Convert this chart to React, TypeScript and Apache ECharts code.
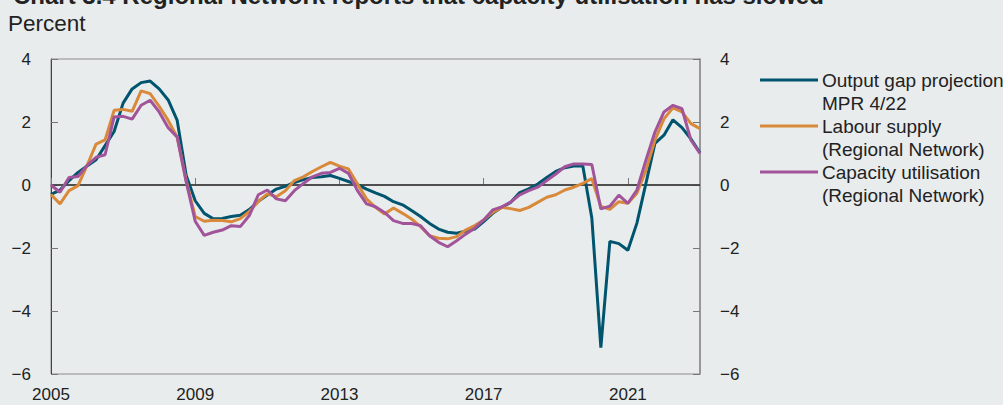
import React, { useEffect, useRef } from "react";
import * as echarts from "echarts";

const startYear = 2005;
const xTickLabels = ["2005", "2009", "2013", "2017", "2021"];
const yTickValues = [-6, -4, -2, 0, 2, 4];

const outputGap = [
  -0.3, -0.16, 0.14, 0.4, 0.6, 0.8, 1.25, 1.7, 2.6, 3.05, 3.25, 3.3, 3.05, 2.7, 2.05, 0.3,
  -0.5, -0.9, -1.07, -1.06, -1.0, -0.96, -0.78, -0.52, -0.32, -0.13, -0.04, 0.08, 0.17, 0.24, 0.26, 0.3,
  0.21, 0.11, 0.01, -0.13, -0.25, -0.36, -0.53, -0.63, -0.81, -1.0, -1.22, -1.4, -1.5, -1.53, -1.47, -1.4,
  -1.16, -0.9, -0.71, -0.55, -0.24, -0.12, 0.03, 0.24, 0.43, 0.55, 0.6, 0.6, -1.05, -5.16, -1.79, -1.86,
  -2.07, -1.21, 0.05, 1.32, 1.58, 2.07, 1.82, 1.46, 1.02,
];

const labourSupply = [
  -0.3, -0.6, -0.18, -0.02, 0.62, 1.3, 1.43, 2.37, 2.4, 2.34, 2.99, 2.9, 2.5, 2.05, 1.52, 0.14,
  -1.0, -1.15, -1.12, -1.13, -1.17, -1.07, -0.84, -0.52, -0.28, -0.37, -0.18, 0.14, 0.26, 0.43, 0.58, 0.72,
  0.6, 0.51, 0.03, -0.44, -0.71, -0.92, -0.73, -0.9, -1.08, -1.32, -1.61, -1.69, -1.71, -1.64, -1.43, -1.29,
  -1.11, -0.87, -0.71, -0.75, -0.81, -0.71, -0.55, -0.39, -0.31, -0.16, -0.07, 0.05, 0.2, -0.68, -0.77, -0.53,
  -0.58, -0.26, 0.47, 1.42, 2.1, 2.45, 2.32, 1.95, 1.79,
];

const capacityUtil = [
  0, -0.23, 0.24, 0.27, 0.62, 0.88, 0.96, 2.16, 2.18, 2.09, 2.53, 2.69, 2.32, 1.82, 1.52, 0.1,
  -1.15, -1.6, -1.5, -1.43, -1.29, -1.32, -0.97, -0.31, -0.16, -0.44, -0.5, -0.18, 0.05, 0.26, 0.37, 0.4,
  0.53, 0.37, -0.18, -0.6, -0.69, -0.87, -1.13, -1.22, -1.22, -1.29, -1.61, -1.82, -1.96, -1.77, -1.56, -1.37,
  -1.11, -0.79, -0.7, -0.54, -0.31, -0.18, -0.07, 0.14, 0.35, 0.58, 0.67, 0.67, 0.65, -0.76, -0.67, -0.32,
  -0.58, -0.16, 0.79, 1.68, 2.32, 2.53, 2.42, 1.42, 1.0,
];

const seriesNames = [
  "Output gap projection\nMPR 4/22",
  "Labour supply\n(Regional Network)",
  "Capacity utilisation\n(Regional Network)",
];
const seriesColors = ["#00546e", "#d9893a", "#a2549a"];

const titleText = "Chart 3.4 Regional Network reports that capacity utilisation has slowed";
const unitText = "Percent";

const BG = "#e8eced";
const FONT = "'Liberation Sans', Arial, Helvetica, sans-serif";

const toPairs = (arr: number[]) => arr.map((v, i) => [startYear + i / 4, v]);
const fmtY = (v: number) => (v < 0 ? "\u2212" + Math.abs(v) : String(v));

export default function App() {
  const ref = useRef<HTMLDivElement>(null);
  useEffect(() => {
    document.body.style.margin = "0";
    document.body.style.background = BG;
    if (!ref.current) return;
    const chart = echarts.init(ref.current, undefined, { renderer: "svg" });
    const yAxisBase = {
      type: "value" as const,
      min: -6,
      max: 4,
      interval: 2,
      splitLine: { show: false },
      axisTick: { show: true, inside: true, length: 7, lineStyle: { color: "#777", width: 1 } },
      axisLabel: {
        color: "#222",
        fontSize: 17,
        fontFamily: FONT,
        margin: 20,
        formatter: (v: number) => (yTickValues.includes(v) ? fmtY(v) : ""),
      },
    };
    const legendY = [80, 126, 172];
    const legendGraphics: any[] = [];
    seriesNames.forEach((name, k) => {
      legendGraphics.push({
        type: "line",
        shape: { x1: 760, y1: legendY[k], x2: 818, y2: legendY[k] },
        style: { stroke: seriesColors[k], lineWidth: 3 },
      });
      legendGraphics.push({
        type: "text",
        x: 822,
        y: legendY[k] - 11.5,
        style: {
          text: name,
          fill: "#222",
          fontSize: 19,
          fontFamily: FONT,
          lineHeight: 23,
          verticalAlign: "top",
        },
      });
    });
    chart.setOption({
      animation: false,
      backgroundColor: BG,
      grid: {
        left: 51,
        right: 303,
        top: 59,
        bottom: 31,
        show: true,
        borderColor: "#8c8c8c",
        borderWidth: 1,
        backgroundColor: "transparent",
      },
      graphic: [
        {
          type: "text",
          x: 13,
          y: -17,
          style: { text: titleText, fill: "#222", fontSize: 24, fontWeight: "bold", fontFamily: FONT },
        },
        {
          type: "text",
          x: 8,
          y: 12,
          style: { text: unitText, fill: "#222", fontSize: 22.5, fontFamily: FONT },
        },
        ...legendGraphics,
      ],
      xAxis: {
        type: "value",
        min: 2005,
        max: 2023,
        interval: 4,
        splitLine: { show: false },
        axisLine: { show: true, lineStyle: { color: "#8c8c8c", width: 1.5 } },
        axisTick: { show: true, inside: true, length: 7, lineStyle: { color: "#777", width: 1 } },
        axisLabel: {
          color: "#222",
          fontSize: 17,
          fontFamily: FONT,
          margin: 12,
          showMaxLabel: false,
          formatter: (v: number) => (xTickLabels.includes(String(v)) ? String(v) : ""),
        },
      },
      yAxis: [
        { ...yAxisBase, position: "left", axisLine: { show: true, lineStyle: { color: "#444", width: 1 } } },
        { ...yAxisBase, position: "right", axisLine: { show: true, lineStyle: { color: "#8c8c8c", width: 1.5 } } },
      ],
      series: [outputGap, labourSupply, capacityUtil].map((arr, k) => ({
        name: seriesNames[k],
        type: "line",
        yAxisIndex: 0,
        data: toPairs(arr),
        showSymbol: false,
        symbol: "none",
        lineStyle: { color: seriesColors[k], width: 3 },
        itemStyle: { color: seriesColors[k] },
        z: 3 + k,
        markLine:
          k === 0
            ? {
                silent: true,
                symbol: "none",
                label: { show: false },
                lineStyle: { color: "#333", width: 1.5, type: "solid" },
                data: [{ yAxis: 0 }],
                z: 1,
              }
            : undefined,
      })),
    });
    return () => chart.dispose();
  }, []);
  return <div ref={ref} style={{ width: 1003, height: 405 }} />;
}
